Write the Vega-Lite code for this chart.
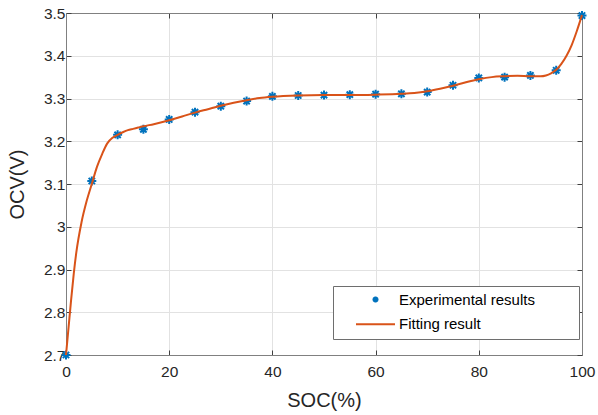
{
  "$schema": "https://vega.github.io/schema/vega-lite/v6.json",
  "width": 516,
  "height": 342,
  "autosize": "none",
  "padding": {"left": 66, "top": 13, "right": 16, "bottom": 60},
  "background": "white",
  "config": {
    "font": "Liberation Sans",
    "view": {"stroke": "#808080", "strokeWidth": 1},
    "axis": {
      "labelFont": "Liberation Sans",
      "labelFontSize": 15.5,
      "labelColor": "#262626",
      "labelFlush": false,
      "labelOverlap": false,
      "titleFont": "Liberation Sans",
      "titleFontSize": 20,
      "titleFontWeight": "normal",
      "titleColor": "#262626",
      "domainColor": "#808080",
      "domainWidth": 1,
      "tickColor": "#404040",
      "tickWidth": 1,
      "gridColor": "#e2e2e2",
      "gridWidth": 1
    },
    "legend": {
      "labelFont": "Liberation Sans",
      "labelFontSize": 15,
      "labelColor": "#000000",
      "labelLimit": 400
    }
  },
  "datasets": {
    "exp": [
      {"soc": 0, "ocv": 2.700, "series": "Experimental results"},
      {"soc": 5, "ocv": 3.107, "series": "Experimental results"},
      {"soc": 10, "ocv": 3.215, "series": "Experimental results"},
      {"soc": 15, "ocv": 3.228, "series": "Experimental results"},
      {"soc": 20, "ocv": 3.251, "series": "Experimental results"},
      {"soc": 25, "ocv": 3.268, "series": "Experimental results"},
      {"soc": 30, "ocv": 3.282, "series": "Experimental results"},
      {"soc": 35, "ocv": 3.294, "series": "Experimental results"},
      {"soc": 40, "ocv": 3.305, "series": "Experimental results"},
      {"soc": 45, "ocv": 3.307, "series": "Experimental results"},
      {"soc": 50, "ocv": 3.308, "series": "Experimental results"},
      {"soc": 55, "ocv": 3.309, "series": "Experimental results"},
      {"soc": 60, "ocv": 3.310, "series": "Experimental results"},
      {"soc": 65, "ocv": 3.311, "series": "Experimental results"},
      {"soc": 70, "ocv": 3.315, "series": "Experimental results"},
      {"soc": 75, "ocv": 3.331, "series": "Experimental results"},
      {"soc": 80, "ocv": 3.348, "series": "Experimental results"},
      {"soc": 85, "ocv": 3.350, "series": "Experimental results"},
      {"soc": 90, "ocv": 3.354, "series": "Experimental results"},
      {"soc": 95, "ocv": 3.366, "series": "Experimental results"},
      {"soc": 100, "ocv": 3.494, "series": "Experimental results"}
    ],
    "fit": [
      {"soc": 0, "ocv": 2.700, "series": "Fitting result"},
      {"soc": 0.5, "ocv": 2.765, "series": "Fitting result"},
      {"soc": 1, "ocv": 2.830, "series": "Fitting result"},
      {"soc": 1.5, "ocv": 2.890, "series": "Fitting result"},
      {"soc": 2, "ocv": 2.940, "series": "Fitting result"},
      {"soc": 3, "ocv": 3.010, "series": "Fitting result"},
      {"soc": 4, "ocv": 3.060, "series": "Fitting result"},
      {"soc": 5, "ocv": 3.100, "series": "Fitting result"},
      {"soc": 6, "ocv": 3.140, "series": "Fitting result"},
      {"soc": 7, "ocv": 3.170, "series": "Fitting result"},
      {"soc": 8, "ocv": 3.195, "series": "Fitting result"},
      {"soc": 9, "ocv": 3.208, "series": "Fitting result"},
      {"soc": 10, "ocv": 3.215, "series": "Fitting result"},
      {"soc": 11, "ocv": 3.221, "series": "Fitting result"},
      {"soc": 12, "ocv": 3.226, "series": "Fitting result"},
      {"soc": 13, "ocv": 3.229, "series": "Fitting result"},
      {"soc": 14, "ocv": 3.232, "series": "Fitting result"},
      {"soc": 15, "ocv": 3.235, "series": "Fitting result"},
      {"soc": 17, "ocv": 3.240, "series": "Fitting result"},
      {"soc": 20, "ocv": 3.249, "series": "Fitting result"},
      {"soc": 22.5, "ocv": 3.258, "series": "Fitting result"},
      {"soc": 25, "ocv": 3.267, "series": "Fitting result"},
      {"soc": 27.5, "ocv": 3.275, "series": "Fitting result"},
      {"soc": 30, "ocv": 3.283, "series": "Fitting result"},
      {"soc": 32.5, "ocv": 3.290, "series": "Fitting result"},
      {"soc": 35, "ocv": 3.296, "series": "Fitting result"},
      {"soc": 37.5, "ocv": 3.301, "series": "Fitting result"},
      {"soc": 40, "ocv": 3.304, "series": "Fitting result"},
      {"soc": 45, "ocv": 3.307, "series": "Fitting result"},
      {"soc": 50, "ocv": 3.308, "series": "Fitting result"},
      {"soc": 55, "ocv": 3.308, "series": "Fitting result"},
      {"soc": 60, "ocv": 3.309, "series": "Fitting result"},
      {"soc": 65, "ocv": 3.311, "series": "Fitting result"},
      {"soc": 67.5, "ocv": 3.313, "series": "Fitting result"},
      {"soc": 70, "ocv": 3.317, "series": "Fitting result"},
      {"soc": 72.5, "ocv": 3.323, "series": "Fitting result"},
      {"soc": 75, "ocv": 3.330, "series": "Fitting result"},
      {"soc": 77.5, "ocv": 3.338, "series": "Fitting result"},
      {"soc": 80, "ocv": 3.345, "series": "Fitting result"},
      {"soc": 82.5, "ocv": 3.350, "series": "Fitting result"},
      {"soc": 85, "ocv": 3.352, "series": "Fitting result"},
      {"soc": 87.5, "ocv": 3.353, "series": "Fitting result"},
      {"soc": 90, "ocv": 3.352, "series": "Fitting result"},
      {"soc": 92, "ocv": 3.352, "series": "Fitting result"},
      {"soc": 93, "ocv": 3.354, "series": "Fitting result"},
      {"soc": 94, "ocv": 3.359, "series": "Fitting result"},
      {"soc": 95, "ocv": 3.367, "series": "Fitting result"},
      {"soc": 96, "ocv": 3.381, "series": "Fitting result"},
      {"soc": 97, "ocv": 3.400, "series": "Fitting result"},
      {"soc": 98, "ocv": 3.425, "series": "Fitting result"},
      {"soc": 99, "ocv": 3.458, "series": "Fitting result"},
      {"soc": 100, "ocv": 3.495, "series": "Fitting result"}
    ]
  },
  "layer": [
    {
      "data": {"name": "exp"},
      "mark": {"type": "point", "filled": false, "strokeWidth": 2, "size": 81, "opacity": 1},
      "encoding": {
        "x": {
          "field": "soc", "type": "quantitative",
          "scale": {"domain": [0, 100], "nice": false, "zero": false},
          "axis": {
            "orient": "bottom", "values": [0, 20, 40, 60, 80, 100], "grid": true,
            "tickSize": -5, "labelPadding": 14, "title": "SOC(%)",
            "titleX": 258, "titleY": 51.7, "titleAlign": "center", "titleBaseline": "alphabetic"
          }
        },
        "y": {
          "field": "ocv", "type": "quantitative",
          "scale": {"domain": [2.7, 3.5], "nice": false, "zero": false},
          "axis": {
            "orient": "left", "values": [2.7, 2.8, 2.9, 3.0, 3.1, 3.2, 3.3, 3.4, 3.5], "format": "~g",
            "grid": true, "tickSize": -5, "labelPadding": 6, "title": "OCV(V)",
            "titleX": -43, "titleY": 171, "titleAlign": "center", "titleBaseline": "alphabetic"
          }
        },
        "color": {
          "field": "series", "type": "nominal",
          "scale": {"domain": ["Experimental results", "Fitting result"], "range": ["#0072BD", "#D95319"]},
          "legend": {
            "orient": "none", "legendX": 267, "legendY": 273, "title": null,
            "padding": 6, "strokeColor": "#6e6e6e", "fillColor": "white",
            "symbolOffset": 29, "labelOffset": 16, "rowPadding": 8.7, "symbolSize": 36,
            "symbolStrokeWidth": 2, "labelFontSize": 15, "labelLimit": 400,
            "labelExpr": "datum.label + '\u00a0\u00a0\u00a0\u00a0\u00a0\u00a0\u00a0\u00a0\u00a0\u200b'"
          }
        },
        "shape": {
          "field": "series", "type": "nominal",
          "scale": {
            "domain": ["Experimental results", "Fitting result"],
            "range": ["M-1,0L1,0M0,-1L0,1M-0.7,-0.7L0.7,0.7M-0.7,0.7L0.7,-0.7", "M-6.5,0L6.5,0"]
          },
          "legend": {
            "orient": "none", "legendX": 267, "legendY": 273, "title": null,
            "padding": 6, "strokeColor": "#6e6e6e", "fillColor": "white",
            "symbolOffset": 29, "labelOffset": 16, "rowPadding": 8.7, "symbolSize": 36,
            "symbolStrokeWidth": 2, "labelFontSize": 15, "labelLimit": 400,
            "labelExpr": "datum.label + '\u00a0\u00a0\u00a0\u00a0\u00a0\u00a0\u00a0\u00a0\u00a0\u200b'"
          }
        }
      }
    },
    {
      "data": {"name": "fit"},
      "mark": {"type": "line", "strokeWidth": 2, "interpolate": "monotone"},
      "encoding": {
        "x": {
          "field": "soc", "type": "quantitative",
          "scale": {"domain": [0, 100], "nice": false, "zero": false},
          "axis": {"orient": "top", "values": [0, 20, 40, 60, 80, 100], "grid": false, "labels": false, "tickSize": -5, "title": null}
        },
        "y": {
          "field": "ocv", "type": "quantitative",
          "scale": {"domain": [2.7, 3.5], "nice": false, "zero": false},
          "axis": {"orient": "right", "values": [2.7, 2.8, 2.9, 3.0, 3.1, 3.2, 3.3, 3.4, 3.5], "grid": false, "labels": false, "tickSize": -5, "title": null}
        },
        "color": {"field": "series", "type": "nominal"}
      }
    }
  ],
  "resolve": {"axis": {"x": "independent", "y": "independent"}}
}
